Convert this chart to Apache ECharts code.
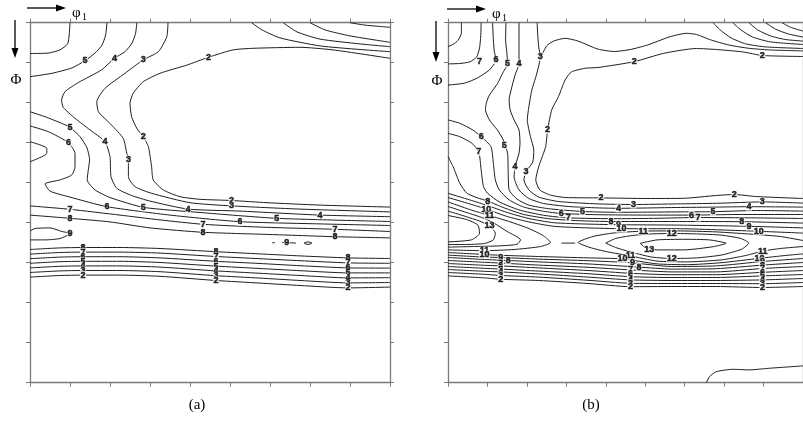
<!DOCTYPE html>
<html>
<head>
<meta charset="utf-8">
<script src="https://cdn.jsdelivr.net/npm/echarts@6/dist/echarts.min.js"></script>
<style>
html, body { margin: 0; padding: 0; background: #fff; }
#main { width: 803px; height: 428px; }
</style>
</head>
<body>
<div id="main"></div>
<script>
// both panels: phi1 across, Phi down, 0..90 deg, tick every 10
const angleMin = 0;
const angleMax = 90;
const tickStep = 10;

// ---------- panel (a) contour lines, [phi1, Phi] ----------
const aTop6 = [[10,0],[9.8,3.1],[9.4,5.3],[7.5,6.8],[4.5,7.6],[0,7.7]];
const aTop5 = [[19.25,0],[18.9,3.1],[18,5.6],[16.25,7.6],[13.75,9.5],[10.5,11.3],[5.5,12.65],[0,13.5]];
const a4 = [[26.7,0],[26.4,2.6],[25.5,5.1],[23.75,7.25],[21.1,8.9],[17.9,11.8],[12.1,14.95],[8.75,17.25],[7.9,19.3],[8.3,21.15],[11.25,23.9],[15,26.8],[18.75,29.75],[20,33.5],[20.25,38.5],[21.7,41.4],[25.4,43.2],[30,44.6],[39.5,46.6],[52.5,47.1],[72.5,48.1],[90,48.5]];
const a3 = [[34.5,0],[34.2,3.5],[32.1,7.25],[28.3,9.3],[23.75,12.65],[18.75,16.4],[16.7,19.75],[17.1,22.25],[20.4,25.6],[23.3,28.9],[24.2,32.65],[24.6,34.15],[24.6,38.5],[26.25,41],[30.4,42.65],[40,45],[50.4,45.8],[67.5,46.6],[90,47.3]];
const a2 = [[90,8.9],[75.75,6.8],[67.5,6.15],[55.75,6.4],[50.75,6.8],[44.6,8.65],[39.2,10.6],[32.5,12.65],[28.3,14.75],[25.8,17.65],[25,20.15],[25.4,23.5],[26.7,26.4],[28.3,28.5],[29.6,31],[30.4,36],[30.8,39.3],[33.3,41.8],[37.5,43.5],[42.5,44.15],[50.4,44.45],[59.25,45],[72.5,45.6],[90,46.1]];
const aRight3 = [[55.4,0],[58,1.8],[62.5,3.8],[72.5,5.8],[82.5,6.7],[90,7.25]];
const aRight4 = [[63.3,0],[66.75,2.3],[72.5,4.1],[82.5,5.3],[90,6]];
const aRight5 = [[70,0],[73.75,1.8],[80,3.3],[90,4.9]];
const aRight6 = [[80,0],[83.75,0.6],[90,1.15]];
const aLobe5 = [[0,22.25],[3.75,23.5],[7.9,25.15],[10,26.15],[12.5,28.5],[14.25,31.3],[14.9,34.3],[14.5,37.3],[14.3,39.3],[16.25,41.8],[20,43.7],[28.3,46.15],[42.5,47.45],[61.7,48.9],[90,49.7]];
const aLobe6 = [[0,25.8],[4.6,27.25],[9.6,30],[11.25,32.65],[11.25,36],[10.4,38.1],[7.5,39.3],[3.75,40.3],[5,42.1],[10,43.6],[19.25,46],[35,48.1],[52.5,49.75],[72.5,50.3],[90,50.7]];
const aLobe7 = [[0,29.75],[4.2,31.4],[4.2,32.65],[0,34.75]];
const aBand7 = [[0,45.8],[10,46.65],[22.5,48.1],[32.5,49.3],[43.25,50.4],[57.5,51.1],[76.25,51.65],[90,52.2]];
const aBand8 = [[0,48.1],[10,48.9],[20,49.8],[30,51.3],[43.25,52.4],[60,52.95],[76.25,53.5],[90,53.8]];
const aLobe9 = [[0,52.1],[1.25,51.45],[5,51.3],[8,52.2],[10,52.7],[7.5,53.95],[3.75,54.3],[0,54.3]];
const aDash9 = [[60.5,55],[61.25,55]];
const aSeg9 = [[63,54.95],[66.5,55.1]];
const aEye9 = [[68.5,55.1],[69.5,54.8],[70.5,55.1],[69.5,55.45],[68.5,55.1]];

// lower band of panel (a): shared phi1 stations, one Phi list per level
const aBandU = [0,7.5,13.25,22.5,32.5,46.5,57.5,67.5,79.5,90];
const aLow8 = [56.7,56.3,56.2,56.2,56.45,57.25,57.8,58.3,58.8,58.95];
const aLow7 = [57.85,57.45,57.35,57.35,57.6,58.45,59.0,59.5,60.05,60.15];
const aLow6 = [59.0,58.6,58.5,58.5,58.8,59.65,60.2,60.75,61.3,61.35];
const aLow5 = [60.15,59.75,59.65,59.65,59.95,60.85,61.45,62.0,62.55,62.55];
const aLow4 = [61.3,60.9,60.8,60.8,61.1,62.05,62.65,63.2,63.8,63.75];
const aLow3 = [62.45,62.05,61.95,61.95,62.25,63.25,63.85,64.45,65.05,64.95];
const aLow2 = [63.6,63.2,63.1,63.1,63.4,64.45,65.1,65.7,66.3,66.1];

const labelsA = [
  [13.75,9.5,'5'],[21.1,8.9,'4'],[28.3,9.3,'3'],[44.6,8.65,'2'],
  [10,26.15,'5'],[9.6,30,'6'],[18.75,29.75,'4'],[24.6,34.15,'3'],[28.3,28.5,'2'],
  [10,46.65,'7'],[10,48.9,'8'],[19.25,46,'6'],[28.3,46.15,'5'],[39.5,46.6,'4'],
  [50.4,44.45,'2'],[50.4,45.8,'3'],[52.5,49.75,'6'],[61.7,48.9,'5'],[72.5,48.1,'4'],
  [43.25,50.4,'7'],[43.25,52.4,'8'],[76.25,51.65,'7'],[76.25,53.5,'8'],
  [10,52.7,'9'],[64.2,55,'9'],
  [13.25,56.2,'8'],[13.25,57.35,'7'],[13.25,58.5,'6'],[13.25,59.65,'5'],[13.25,60.8,'4'],[13.25,61.95,'3'],[13.25,63.1,'2'],
  [46.5,57.25,'8'],[46.5,58.45,'7'],[46.5,59.65,'6'],[46.5,60.85,'5'],[46.5,62.05,'4'],[46.5,63.25,'3'],[46.5,64.45,'2'],
  [79.5,58.8,'8'],[79.5,60.05,'7'],[79.5,61.3,'6'],[79.5,62.55,'5'],[79.5,63.8,'4'],[79.5,65.05,'3'],[79.5,66.3,'2']
];

// ---------- panel (b) contour lines ----------
const bCorner8 = [[3.4,0],[3.4,2.6],[2.5,4.45],[1.25,5.45],[0,5.95]];
const bCorner7 = [[8.4,0],[8.3,3.3],[8,6.3],[7.25,8.6],[5.5,9.8],[3,10.2],[0,10.3]];
const bCorner6 = [[11.3,0],[11.5,4.3],[11.75,7.3],[12.2,9.3],[10.5,11.8],[7.5,13.8],[4.25,15.1],[0,15.6]];
const b5 = [[14.7,0],[14.6,4.3],[14.9,7.3],[15.1,10.15],[13.75,12.8],[12.6,15.15],[10.5,18.1],[9.7,20.1],[9.5,21.8],[10.5,24.3],[12.5,26.8],[14,29.3],[15.1,32.65],[15.25,36.8],[15.5,41.8],[17.5,44.1],[20.5,45.6],[25.5,46.5],[34.1,47.2],[43,47.4],[58,47.3],[67.2,47.25],[78,46.95],[90,47.1]];
const b4 = [[18,0],[18,4.3],[18,8.1],[18,10.15],[17,13.1],[16,16.8],[15.5,19.3],[15.75,21.8],[16.75,24.3],[18,26.8],[18.25,30.1],[18,32.65],[17,36],[16.75,38.5],[18,41.8],[20.5,43.95],[24.25,45.2],[30.5,45.95],[38,46.3],[43.2,46.4],[58,46.2],[68,46.1],[76.3,46],[90,46.1]];
const b3 = [[22.6,0],[22.75,3.1],[23,6.1],[23.4,8.5],[23,10.8],[22.2,13.8],[21.25,16.8],[20.5,21],[20.1,24.3],[20.9,28.5],[21.75,31.8],[21.5,34.8],[19.75,37.3],[19.25,39.3],[20.5,41.8],[23,43.6],[28,44.7],[38,45.3],[47,45.45],[58,45.3],[68,45.15],[79.7,44.8],[90,45.1]];
const b3Loop = [[23.8,8.1],[25,5.8],[26.75,4.6],[29.7,3.9],[33,4.6],[38,6.6],[42.2,7.2],[46.25,6.7],[50.5,5.6],[56.3,3.5],[60.5,2.65],[63,2.95],[66.3,4.2],[71.3,5.6],[76.3,6.4],[81.3,6.8],[90,7.05]];
const b2 = [[90,8.45],[79.7,8.2],[74.7,7.3],[68,6.7],[63,6.45],[54.7,7.65],[47.2,9.75],[38,11.2],[34.7,11.4],[31.3,12.3],[29.7,14.3],[28,18.5],[26.3,21.8],[25.25,26.8],[24.75,31],[23,36],[22.25,39.3],[23.25,41.8],[26,43.1],[29.7,43.7],[38.8,43.8],[50.5,43.95],[59.7,43.9],[68,43.2],[72.6,42.95],[78,43.45],[90,43.95]];
const bTopRight1 = [[67.2,0],[69,1.8],[71.75,3.8],[75.5,5.3],[80.5,6.05],[90,6.45]];
const bTopRight2 = [[72.2,0],[74.25,1.8],[77.25,3.6],[81.75,4.8],[90,5.45]];
const bTopRight3 = [[76.3,0],[78.5,1.8],[81.75,3.3],[85.5,4.2],[90,4.6]];
const bTopRight4 = [[80.5,0],[83,1.6],[86.25,2.8],[90,3.6]];
const bTopRight5 = [[84.7,0],[86.75,1.1],[90,2.1]];
const bLobe6 = [[0,24.3],[3,25.15],[6.25,26.8],[8.4,28.5],[10.9,31],[11.5,35.15],[12,39.3],[13,41.8],[15.5,44.3],[19.25,46.1],[24.25,47.15],[28.7,47.7],[38,48],[50.5,48.1],[61.75,48.1],[73,47.95],[90,47.95]];
const bLobe7 = [[0,27.65],[3,28.5],[6,30.1],[7.8,32.25],[8.4,36.8],[9,41],[10,42.6],[13,44.8],[18,46.8],[24.25,48.15],[30.5,48.8],[43,49],[53,48.9],[63.4,48.7],[78,48.8],[90,48.95]];
const b8 = [[0,33.5],[1.3,36],[3,40.15],[4.75,42.6],[7.5,43.8],[10.1,44.6],[14.25,46.3],[19.25,47.95],[25.5,49],[33,49.5],[41.3,49.7],[58,49.7],[74.5,49.75],[90,50.1]];
const b9Up = [[0,42.65],[5.5,44.3],[10,45.7],[15,47.45],[20.5,48.95],[26.75,50],[35.5,50.35],[43.2,50.5],[58,50.6],[76.3,50.9],[90,51.3]];
const b10Up = [[0,43.7],[5.5,45.3],[9.7,46.6],[15,48.45],[20.5,49.8],[26.75,50.9],[35.5,51.3],[44,51.5],[58,51.5],[78.8,52.15],[90,52.6]];
const b11Left = [[0,44.8],[5.5,46.7],[10.5,48.2],[15.5,49.7],[20.5,51.45],[24.25,53.3],[26,54.95],[23.5,55.95],[16.75,56.7],[9.25,57],[0,56.8]];
const b11Right = [[90,54.45],[84.25,53.45],[78,52.95],[68,52.3],[58,52.05],[49.5,52.1],[41.75,52.6],[36.75,53.45],[33,54.95],[36,56.2],[40.5,57.3],[46.25,58.3],[53,59.6],[60.5,59.8],[69.25,59.3],[75.5,58.2],[79.8,57.1],[84.25,56.45],[90,55.95]];
const b11Dash = [[28.75,55.1],[32.25,55.1]];
const b12Left = [[0,45.95],[5.5,47.7],[9.25,48.95],[12.25,50.45],[15,52.2],[18.4,54.3],[17.5,55.4],[13,55.8],[6.75,55.95],[0,56.1]];
const b13Left = [[0,47.1],[4.5,48.45],[8,49.6],[10.5,50.8],[12,52.6],[11.5,54.3],[9.25,55.2],[4.25,55.45],[0,55.45]];
const b14Lobe = [[0,48.2],[4.7,49.2],[7.6,50.6],[8,52.65],[5.9,54.3],[0,54.8]];
const b12Ring = [[40,55.1],[42.5,53.95],[46.75,53.2],[51.75,52.8],[56.75,52.7],[63,52.8],[69.25,53.1],[74.25,53.95],[76.25,55.1],[74.5,56.6],[69.25,58.1],[63,58.8],[56.75,58.95],[51.75,58.6],[46.75,57.45],[42.5,56.2],[40,55.1]];
const b13Ring = [[48.75,55.15],[53,54.3],[59.75,54.15],[66.25,54.3],[70.5,55.15],[67.25,56],[59.75,56.8],[53,56.8],[49.75,56.05],[48.75,55.15]];
const b10Low = [[0,57.45],[9.25,57.95],[13.4,58.15],[23,58.45],[35.5,58.8],[44.25,59.05],[53,60.3],[60.5,60.5],[69.25,60],[79,58.9],[85.5,58.2],[90,57.8]];
const b9Low = [[0,58.1],[9.25,58.6],[13.4,58.7],[23,59.1],[35.5,59.5],[46.25,60],[56.75,60.95],[68,60.8],[79.75,59.7],[90,58.95]];
const b8Low = [[0,58.7],[9.25,59.2],[15.25,59.45],[23,59.8],[35.5,60.3],[48.4,61.1],[56.75,61.6],[68,61.5],[79.75,60.6],[90,59.95]];
const b7Low = [[0,59.45],[9.25,59.9],[13.4,60.1],[23,60.6],[35.5,61.15],[46.25,61.8],[56.75,62.3],[68,62.3],[79.75,61.45],[90,60.95]];
const b6Low = [[0,60.2],[9.25,60.65],[13.4,60.8],[23,61.3],[35.5,61.95],[46.25,62.65],[56.75,63],[68,63],[79.75,62.4],[90,61.95]];
const b5Low = [[0,60.95],[9.25,61.4],[13.4,61.6],[23,62.1],[35.5,62.75],[46.25,63.5],[56.75,63.7],[68,63.7],[79.75,63.3],[90,62.95]];
const b4Low = [[0,61.7],[9.25,62.15],[13.4,62.3],[23,62.8],[35.5,63.6],[46.25,64.3],[56.75,64.45],[68,64.45],[79.75,64.3],[90,63.95]];
const b3Low = [[0,62.45],[9.25,62.9],[13.4,63.2],[23,63.6],[35.5,64.4],[46.25,65.15],[56.75,65.2],[68,65.2],[79.75,65.25],[90,64.95]];
const b2Low = [[0,63.3],[9.25,63.8],[13.4,64.15],[23,64.45],[35.5,65.2],[46.25,66],[56.75,65.95],[68,65.95],[79.75,66.2],[90,65.95]];
const bFoot = [[65.5,90],[66.3,88.5],[68,87.25],[72.2,86.65],[76.3,86.8],[81.3,86.4],[90,85.8]];

const labelsB = [
  [8,9.75,'7'],[12.2,9.3,'6'],[15.1,10.15,'5'],[18,10.15,'4'],[23.4,8.5,'3'],
  [47.2,9.75,'2'],[79.7,8.2,'2'],[25.25,26.8,'2'],
  [8.4,28.5,'6'],[7.8,32.25,'7'],[14.25,30.6,'5'],[17,36,'4'],[19.75,37.3,'3'],
  [38.8,43.8,'2'],[47,45.45,'3'],[43.2,46.4,'4'],[34.1,47.2,'5'],[28.7,47.7,'6'],[30.5,48.8,'7'],
  [41.3,49.7,'8'],[43.2,50.5,'9'],[44,51.5,'10'],[49.5,52.1,'11'],[56.75,52.7,'12'],
  [51,56.6,'13'],[56.75,58.95,'12'],[46.25,58.3,'11'],[44.25,59.05,'10'],[46.75,60,'9'],[48.4,61.1,'8'],
  [46.25,61.8,'7'],[46.25,62.65,'6'],[46.25,63.5,'5'],[46.25,64.3,'4'],[46.25,65.15,'3'],[46.25,66,'2'],
  [72.6,42.95,'2'],[79.7,44.8,'3'],[76.3,46,'4'],[67.2,47.25,'5'],[61.75,48.1,'6'],[63.4,48.7,'7'],
  [74.5,49.75,'8'],[76.3,50.9,'9'],[78.8,52.15,'10'],
  [79.8,57.1,'11'],[79,58.9,'10'],[79.75,59.7,'9'],
  [79.75,60.6,'8'],[79.75,61.45,'7'],[79.75,62.4,'6'],[79.75,63.3,'5'],[79.75,64.3,'4'],[79.75,65.25,'3'],[79.75,66.2,'2'],
  [10.1,44.6,'8'],[9.7,46.6,'10'],[10.5,48.2,'11'],[10.5,50.8,'13'],
  [9.25,57,'11'],[9.25,57.95,'10'],[13.4,58.7,'9'],[15.25,59.45,'8'],
  [13.4,60.1,'7'],[13.4,60.8,'6'],[13.4,61.6,'5'],[13.4,62.3,'4'],[13.4,63.2,'3'],[13.4,64.15,'2']
];

const aLow = [aLow8, aLow7, aLow6, aLow5, aLow4, aLow3, aLow2].map(vs => vs.map((v, i) => [aBandU[i], v]));

const linesA = [aTop6, aTop5, a4, a3, a2, aRight3, aRight4, aRight5, aRight6,
  aLobe5, aLobe6, aLobe7, aBand7, aBand8, aLobe9, aDash9, aSeg9, aEye9].concat(aLow);
const linesB = [bCorner8, bCorner7, bCorner6, b5, b4, b3, b3Loop, b2,
  bTopRight1, bTopRight2, bTopRight3, bTopRight4, bTopRight5,
  bLobe6, bLobe7, b8, b9Up, b10Up, b11Left, b11Right, b11Dash, b12Left, b13Left, b14Lobe,
  b12Ring, b13Ring, b10Low, b9Low, b8Low, b7Low, b6Low, b5Low, b4Low, b3Low, b2Low, bFoot];

const axisColor = '#7a7a7a';
function makeAxis(gridIndex, position, isY) {
  const ax = {
    type: 'value', gridIndex: gridIndex, position: position,
    min: angleMin, max: angleMax, interval: tickStep,
    axisLine: { show: true, onZero: false, lineStyle: { color: axisColor, width: 1.3 } },
    axisTick: { show: true, inside: false, length: 4, lineStyle: { color: axisColor, width: 1 } },
    axisLabel: { show: false },
    splitLine: { show: false }
  };
  if (isY) ax.inverse = true;
  return ax;
}

function contour(pts, k) {
  return {
    type: 'line', xAxisIndex: k * 2, yAxisIndex: k * 2, data: pts,
    showSymbol: false, symbol: 'none', smooth: 0.2, silent: true, z: 2,
    lineStyle: { color: '#1e1e1e', width: 1 }
  };
}

function labelSeries(list, k) {
  return {
    type: 'scatter', xAxisIndex: k * 2, yAxisIndex: k * 2, z: 5, silent: true,
    symbol: 'circle', symbolSize: 1, itemStyle: { color: 'rgba(0,0,0,0)' },
    data: list.map(d => ({ value: [d[0], d[1]], name: d[2] })),
    label: {
      show: true, position: 'inside', formatter: '{b}',
      fontSize: 9, fontWeight: 'bold', fontFamily: 'Arial',
      color: '#000', textBorderColor: '#000', textBorderWidth: 0.5,
      backgroundColor: '#fff', padding: [0, 0.5], lineHeight: 8
    },
    labelLayout: { hideOverlap: false }
  };
}

const serif = '"Liberation Serif", "DejaVu Serif", serif';
function arrowGraphics(hx1, hx2, hy, vx, vy1, vy2, phiX, bigPhiY) {
  return [
    { type: 'line', shape: { x1: hx1, y1: hy, x2: hx2 - 8, y2: hy }, style: { stroke: '#000', lineWidth: 1.3 } },
    { type: 'polygon', shape: { points: [[hx2, hy], [hx2 - 10, hy - 3.5], [hx2 - 10, hy + 3.5]] }, style: { fill: '#000' } },
    { type: 'text', x: phiX, y: hy + 5, style: { text: 'φ', font: '15px ' + serif, fill: '#000', textVerticalAlign: 'middle' } },
    { type: 'text', x: phiX + 10, y: hy + 9, style: { text: '1', font: '10px ' + serif, fill: '#000', textVerticalAlign: 'middle' } },
    { type: 'line', shape: { x1: vx, y1: vy1, x2: vx, y2: vy2 - 8 }, style: { stroke: '#000', lineWidth: 1.3 } },
    { type: 'polygon', shape: { points: [[vx, vy2], [vx - 3.5, vy2 - 10], [vx + 3.5, vy2 - 10]] }, style: { fill: '#000' } },
    { type: 'text', x: vx + 1, y: bigPhiY, style: { text: 'Φ', font: '15px ' + serif, fill: '#000', textAlign: 'center', textVerticalAlign: 'middle' } }
  ];
}

const chart = echarts.init(document.getElementById('main'), null, { renderer: 'canvas' });
chart.setOption({
  animation: false,
  backgroundColor: '#fff',
  grid: [
    { left: 30, top: 22.7, width: 360, height: 360 },
    { left: 448, top: 22.7, width: 360, height: 360 }
  ],
  xAxis: [makeAxis(0, 'bottom'), makeAxis(0, 'top'), makeAxis(1, 'bottom'), makeAxis(1, 'top')],
  yAxis: [makeAxis(0, 'left', true), makeAxis(0, 'right', true), makeAxis(1, 'left', true), makeAxis(1, 'right', true)],
  series: linesA.map(p => contour(p, 0))
    .concat(linesB.map(p => contour(p, 1)))
    .concat([labelSeries(labelsA, 0), labelSeries(labelsB, 1)]),
  graphic: arrowGraphics(27, 66, 8, 15, 20, 58, 72, 80)
    .concat(arrowGraphics(447, 486, 9, 436, 21, 62, 492, 81))
    .concat([
      { type: 'text', x: 197, y: 405, style: { text: '(a)', font: '15px ' + serif, fill: '#000', textAlign: 'center', textVerticalAlign: 'middle' } },
      { type: 'text', x: 591, y: 405, style: { text: '(b)', font: '15px ' + serif, fill: '#000', textAlign: 'center', textVerticalAlign: 'middle' } }
    ])
});
</script>
</body>
</html>
